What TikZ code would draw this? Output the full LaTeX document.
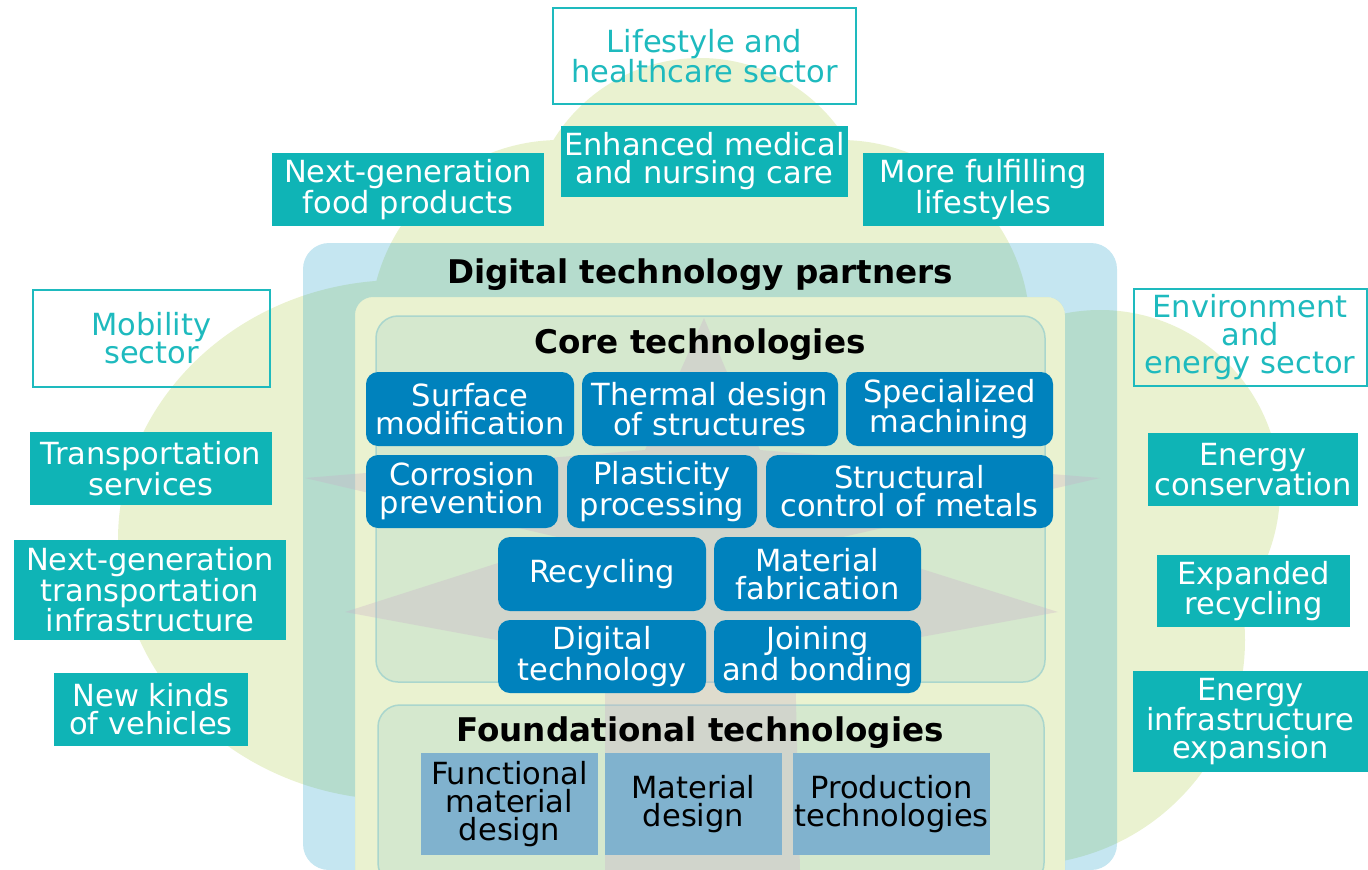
\documentclass[tikz,border=0pt]{standalone}
\usepackage{fontspec}
\setmainfont{DejaVu Sans}
\definecolor{cloudyellow}{RGB}{234,242,208}
\definecolor{partnerblue}{RGB}{23,155,199}
\definecolor{regiongreen}{RGB}{110,185,200}
\definecolor{regionline}{RGB}{170,214,205}
\definecolor{startone}{RGB}{200,172,200}
\definecolor{sectorteal}{RGB}{30,186,190}
\definecolor{impactteal}{RGB}{15,180,182}
\definecolor{coreblue}{RGB}{0,130,189}
\definecolor{baseblue}{RGB}{128,178,206}
\tikzset{
    boxtext/.style={font=\fontsize{30.5}{28}\selectfont, align=center, inner sep=0pt},
    sector/.style={boxtext, draw=sectorteal, line width=2pt, text=sectorteal},
    impact/.style={boxtext, fill=impactteal, text=white},
    core/.style={boxtext, fill=coreblue, text=white, rounded corners=12pt},
    base/.style={boxtext, fill=baseblue, text=black},
    heading/.style={font=\bfseries\fontsize{32.6}{32}\selectfont, text=black, inner sep=0pt},
    region/.style={fill=regiongreen, fill opacity=0.17, draw=regionline, line width=1.5pt, rounded corners=22pt}
}
\begin{document}
\begin{tikzpicture}[x=1pt, y=-1pt]
        \useasboundingbox (0, 0) rectangle (1368, 870);
        \clip (0, 0) rectangle (1368, 870);
        \fill[cloudyellow] (700, 230) circle (172);
        \fill[cloudyellow] (560, 330) circle (190);
        \fill[cloudyellow] (840, 330) circle (190);
        \fill[cloudyellow] (400, 540) ellipse (282 and 260);
        \fill[cloudyellow] (700, 560) ellipse (420 and 285);
        \fill[cloudyellow] (1100, 490) circle (180);
        \fill[cloudyellow] (1020, 640) circle (225);
        \fill[cloudyellow, rounded corners=18pt] (355, 297) rectangle (1065, 890);
        \fill[partnerblue, fill opacity=0.25, even odd rule]
            [rounded corners=26pt] (303, 243) rectangle (1117, 870)
            [rounded corners=18pt] (355, 297) rectangle (1065, 890);
        \draw[region] (376, 316) rectangle (1045, 682);
        \draw[region] (378, 705) rectangle (1044, 885);
        \fill[startone, fill opacity=0.3] (704, 318) -- (760, 450) -- (1100, 478) -- (830, 540) -- (1058, 612)
            -- (795, 660) -- (800, 870) -- (605, 870) -- (605, 660) -- (345, 612) -- (570, 540)
            -- (305, 478) -- (645, 450) -- cycle;

        \node[sector, minimum width=303, minimum height=96] (life) at (704.5, 56) {Lifestyle and\\healthcare sector};
        \node[sector, minimum width=237, minimum height=97] (mobility) at (151.5, 338.5) {Mobility\\sector};
        \node[sector, minimum width=233, minimum height=97] (envsector) at (1250, 337.5) {Environment\\and\\energy sector};

        \node[impact, minimum width=272, minimum height=73] (food) at (408, 189.5) {Next-generation\\food products};
        \node[impact, minimum width=287, minimum height=71] (medical) at (704.5, 161.5) {Enhanced medical\\and nursing care};
        \node[impact, minimum width=241, minimum height=73] (fulfil) at (983.5, 189.5) {More fulfilling\\lifestyles};
        \node[impact, minimum width=242, minimum height=73] (transserv) at (151, 468.5) {Transportation\\services};
        \node[impact, minimum width=272, minimum height=100] (transinfra) at (150, 590) {Next-generation\\transportation\\infrastructure};
        \node[impact, minimum width=194, minimum height=73] (vehicles) at (151, 709.5) {New kinds\\of vehicles};
        \node[impact, minimum width=210, minimum height=73] (conserv) at (1253, 469.5) {Energy\\conservation};
        \node[impact, minimum width=193, minimum height=72] (exprecycle) at (1253.5, 591) {Expanded\\recycling};
        \node[impact, minimum width=235, minimum height=101] (einfra) at (1250.5, 721.5) {Energy\\infrastructure\\expansion};

        \node[heading] (partners) at (700, 275) {Digital technology partners};
        \node[heading] (coretitle) at (700, 345) {Core technologies};
        \node[heading] (foundtitle) at (700, 733) {Foundational technologies};

        \node[core, minimum width=208, minimum height=74] (surface) at (470, 409) {Surface\\modification};
        \node[core, minimum width=256, minimum height=74] (thermal) at (710, 409) {Thermal design\\of structures};
        \node[core, minimum width=207, minimum height=74] (machining) at (949.5, 409) {Specialized\\machining};
        \node[core, minimum width=192, minimum height=73] (corrosion) at (462, 491.5) {Corrosion\\prevention};
        \node[core, minimum width=190, minimum height=73] (plasticity) at (662, 491.5) {Plasticity\\processing};
        \node[core, minimum width=287, minimum height=73] (structural) at (909.5, 491.5) {Structural\\control of metals};
        \node[core, minimum width=208, minimum height=74] (recycling) at (602, 574) {Recycling};
        \node[core, minimum width=207, minimum height=74] (fabrication) at (817.5, 574) {Material\\fabrication};
        \node[core, minimum width=208, minimum height=73] (digitaltech) at (602, 656.5) {Digital\\technology};
        \node[core, minimum width=207, minimum height=73] (joining) at (817.5, 656.5) {Joining\\and bonding};

        \node[base, minimum width=177, minimum height=102] (funcmat) at (509.5, 804) {Functional\\material\\design};
        \node[base, minimum width=177, minimum height=102] (matdesign) at (693.5, 804) {Material\\design};
        \node[base, minimum width=197, minimum height=102] (production) at (891.5, 804) {Production\\technologies};
    \end{tikzpicture}
\end{document}
